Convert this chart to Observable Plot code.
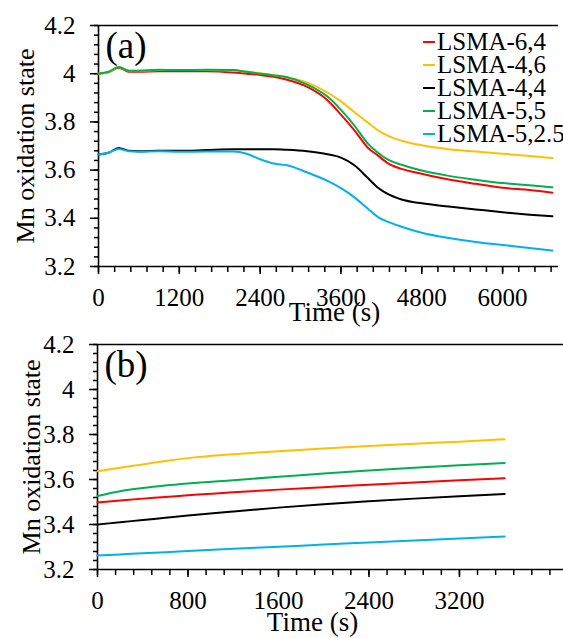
<!DOCTYPE html>
<html><head><meta charset="utf-8">
<script src="https://cdn.jsdelivr.net/npm/d3@7"></script>
<script src="https://cdn.jsdelivr.net/npm/@observablehq/plot@0.6"></script>
<style>
body{margin:0;background:#fff;}
#wrap{position:relative;width:563px;height:638px;overflow:hidden;font-family:"Liberation Serif","Times New Roman",Times,"DejaVu Serif",serif;background:#fff;}
#wrap svg{display:block;font-family:"Liberation Serif","Times New Roman",Times,"DejaVu Serif",serif !important;}
#wrap svg text{font-family:"Liberation Serif","Times New Roman",Times,"DejaVu Serif",serif !important;}
.legend{position:absolute;left:423px;top:30px;font-size:25px;line-height:23px;white-space:nowrap;color:#000;}
.legend .row{display:flex;align-items:center;height:23px;}
.legend .sw{display:inline-block;width:12px;height:2px;margin-right:2px;}
</style></head>
<body><div id="wrap"></div>
<script>
// ---- data ----
const seriesNames = ["LSMA-6,4","LSMA-4,6","LSMA-4,4","LSMA-5,5","LSMA-5,2.5"];
const seriesColors = ["#ff0000","#ffc000","#000000","#00b050","#00b0f0"];

// panel (a)
const timeA = [0,150,300,450,600,900,1200,1600,2000,2200,2400,2600,2800,3100,3400,3600,3800,4000,4150,4300,4500,4800,5200,5600,6000,6400,6740];
const redA    = [4.0,4.006,4.025,4.008,4.008,4.01,4.01,4.01,4.005,4.0,3.995,3.987,3.975,3.945,3.89,3.83,3.765,3.693,3.66,3.628,3.605,3.585,3.561,3.543,3.527,3.517,3.506];
const yellowA = [4.0,4.006,4.028,4.012,4.012,4.015,4.015,4.015,4.013,4.008,4.002,3.995,3.985,3.963,3.922,3.885,3.84,3.797,3.765,3.742,3.722,3.703,3.687,3.677,3.668,3.659,3.65];
const blackA  = [3.665,3.672,3.692,3.68,3.678,3.68,3.68,3.683,3.686,3.686,3.686,3.686,3.684,3.678,3.666,3.652,3.62,3.567,3.527,3.5,3.478,3.462,3.449,3.437,3.425,3.415,3.408];
const greenA  = [4.0,4.008,4.028,4.012,4.012,4.016,4.015,4.016,4.015,4.008,4.0,3.993,3.985,3.955,3.905,3.85,3.785,3.71,3.672,3.643,3.622,3.598,3.576,3.56,3.546,3.537,3.529];
const blueA   = [3.665,3.672,3.688,3.678,3.676,3.678,3.676,3.677,3.677,3.668,3.645,3.627,3.62,3.59,3.555,3.525,3.487,3.44,3.405,3.385,3.365,3.34,3.318,3.302,3.289,3.277,3.266];

// panel (b)
const timeB = [0,200,400,600,800,1200,1600,2000,2400,2800,3200,3600];
const redB    = [3.498,3.507,3.515,3.522,3.53,3.543,3.555,3.566,3.577,3.587,3.597,3.606];
const yellowB = [3.637,3.652,3.667,3.682,3.695,3.712,3.726,3.738,3.749,3.759,3.768,3.779];
const blackB  = [3.40,3.41,3.42,3.43,3.44,3.458,3.475,3.49,3.503,3.515,3.526,3.536];
const greenB  = [3.527,3.548,3.562,3.573,3.582,3.597,3.612,3.627,3.64,3.652,3.663,3.673];
const blueB   = [3.262,3.267,3.272,3.277,3.282,3.292,3.301,3.311,3.32,3.329,3.338,3.347];

// ticks
const yTicks = [3.2,3.4,3.6,3.8,4,4.2];
const yTickLabels = ["3.2","3.4","3.6","3.8","4","4.2"];
const xTicksA = [0,1200,2400,3600,4800,6000];
const xTicksB = [0,800,1600,2400,3200];

// ---- build ----
function rows(time, arrs) {
  const out = [];
  arrs.forEach((a, i) => a.forEach((v, j) => out.push({t: time[j], v, s: seriesNames[i]})));
  return out;
}
const rowsA = rows(timeA, [redA, yellowA, blackA, greenA, blueA]);
const rowsB = rows(timeB, [redB, yellowB, blackB, greenB, blueB]);

const yMinor = d3.range(0, 26).map(i => Math.round((3.2 + i * 0.04) * 1000) / 1000);
const yFmt = d => { const k = yTicks.indexOf(d); return k >= 0 ? yTickLabels[k] : ""; };
const FONT = '"Liberation Serif","Times New Roman",Times,"DejaVu Serif",serif';
const style = {fontFamily: FONT, fontSize: "25px", color: "#000", background: "#fff", overflow: "visible"};

function panel(o) {
  return Plot.plot({
    width: 563, height: o.height,
    marginLeft: o.ml, marginRight: o.mr, marginTop: o.mt, marginBottom: o.mb,
    x: {domain: o.xdom}, y: {domain: [3.2, 4.2]},
    color: {domain: seriesNames, range: seriesColors},
    style,
    marks: [
      Plot.axisY(yMinor, {tickSize: 4, tickFormat: () => "", label: null, strokeWidth: 1.5}),
      Plot.axisY(yTicks, {tickSize: 8, tickPadding: 15, tickFormat: yFmt, label: null, strokeWidth: 1.5, fontFamily: FONT, fontSize: 25, fontVariant: "normal"}),
      Plot.axisX(o.xMinor, {tickSize: 6, tickFormat: () => "", label: null, strokeWidth: 1.5}),
      Plot.axisX(o.xTicks, {tickSize: 8, tickPadding: 14, tickFormat: d => String(d), label: null, strokeWidth: 1.5, fontFamily: FONT, fontSize: 25, fontVariant: "normal"}),
      Plot.ruleY([3.2], {strokeWidth: 1.6}),
      Plot.ruleY([4.2], {strokeWidth: 1.6}),
      Plot.ruleX([0], {strokeWidth: 1.6}),
      Plot.line(o.rows, {x: "t", y: "v", z: "s", stroke: "s", strokeWidth: 2, curve: "monotone-x"}),
      Plot.text([o.tag], {frameAnchor: "top-left", dx: 7, dy: 6, fontSize: 37, fontFamily: FONT, textAnchor: "start", lineAnchor: "top"}),
      Plot.text(["Mn oxidation state"], {frameAnchor: "left", rotate: -90, dx: o.ylDx, fontSize: 26, fontFamily: FONT, textAnchor: "middle", lineAnchor: "middle"}),
      Plot.text(["Time (s)"], {frameAnchor: "bottom", dx: o.xlDx, dy: o.xlDy, fontSize: 27, fontFamily: FONT, textAnchor: "middle", lineAnchor: "middle"})
    ]
  });
}

const wrap = document.getElementById("wrap");
wrap.appendChild(panel({
  height: 330, ml: 98, mr: 5, mt: 25, mb: 64, xdom: [0, 6830],
  xTicks: xTicksA, xMinor: d3.range(0, 6830, 240), rows: rowsA, tag: "(a)",
  ylDx: -73, xlDx: 6, xlDy: 46
}));
wrap.appendChild(panel({
  height: 308, ml: 97, mr: 0, mt: 14, mb: 69, xdom: [0, 4120],
  xTicks: xTicksB, xMinor: d3.range(0, 4120, 160), rows: rowsB, tag: "(b)",
  ylDx: -66, xlDx: -18, xlDy: 53
}));

const leg = document.createElement("div");
leg.className = "legend";
seriesNames.forEach((n, i) => {
  const r = document.createElement("div"); r.className = "row";
  const sw = document.createElement("span"); sw.className = "sw"; sw.style.background = seriesColors[i];
  r.appendChild(sw); r.appendChild(document.createTextNode(n));
  leg.appendChild(r);
});
wrap.appendChild(leg);
</script></body></html>
